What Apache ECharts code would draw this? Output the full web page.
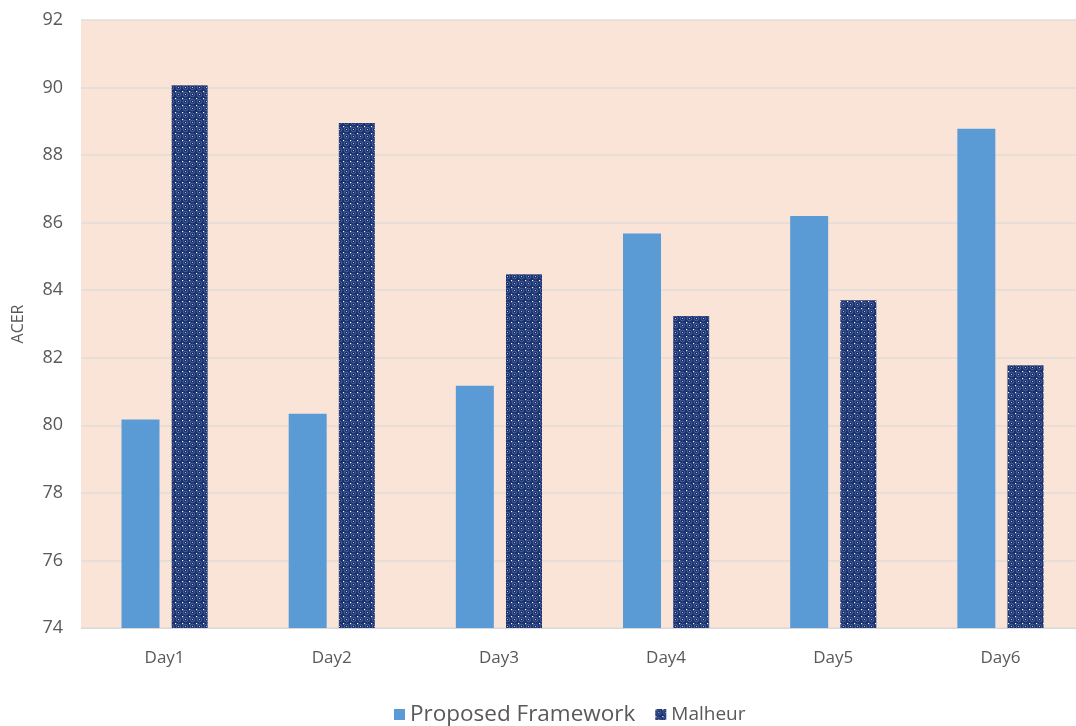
<!DOCTYPE html>
<html>
<head>
<meta charset="utf-8">
<script src="https://cdn.jsdelivr.net/npm/echarts@6/dist/echarts.min.js"></script>
<style>
  html, body { margin: 0; padding: 0; background: #fff; overflow: hidden; }
  /* a bit wider than the window: the plot is cut off at the right edge */
  #main { width: 1084px; height: 726px; }
</style>
</head>
<body>
<div id="main"></div>
<script>
// data
const days = ['Day1', 'Day2', 'Day3', 'Day4', 'Day5', 'Day6'];
const proposed = [80.17, 80.34, 81.17, 85.68, 86.2, 88.78];
const malheur = [90.07, 88.95, 84.47, 83.24, 83.7, 81.78];

// dotted navy fill for the Malheur bars
function makePattern() {
  const c = document.createElement('canvas');
  c.width = 7; c.height = 7;
  const g = c.getContext('2d');
  g.fillStyle = '#1a3370';
  g.fillRect(0, 0, 7, 7);
  g.strokeStyle = 'rgba(140,160,205,0.5)';
  g.lineWidth = 0.8;
  g.beginPath(); g.arc(3.5, 3.5, 2.3, 0, Math.PI * 2); g.stroke();
  g.fillStyle = '#ffffff';
  g.fillRect(0, 0, 1.2, 1.2);
  g.fillStyle = 'rgba(255,255,255,0.7)';
  g.fillRect(3, 3, 1, 1);
  return c;
}
const pattern = { image: makePattern(), repeat: 'repeat' };

const chart = echarts.init(document.getElementById('main'));
chart.setOption({
  animation: false,
  textStyle: { fontFamily: 'Open Sans, Noto Sans, sans-serif' },
  grid: {
    left: 81, right: 0, top: 20, bottom: 98,
    show: true, backgroundColor: '#f9e4d7', borderWidth: 0
  },
  legend: {
    left: 389, top: 698,
    itemGap: 20,
    data: [
      { name: 'Proposed Framework', icon: 'rect', itemStyle: { color: '#5b9bd5' } },
      { name: 'Malheur', icon: 'rect' }
    ],
    itemWidth: 11, itemHeight: 11,
    formatter: function (n) {
      return n === 'Proposed Framework' ? '{a|' + n + '}' : '{b|' + n + '}';
    },
    textStyle: {
      rich: {
        a: { fontSize: 22.5, color: '#595959', fontFamily: 'Open Sans, sans-serif' },
        b: { fontSize: 19, color: '#595959', fontFamily: 'Open Sans, sans-serif' }
      }
    }
  },
  xAxis: {
    type: 'category',
    data: days,
    axisLine: { show: true, lineStyle: { color: '#d9d9d9' } },
    axisTick: { show: false },
    axisLabel: { color: '#595959', fontSize: 17, margin: 22 }
  },
  yAxis: {
    type: 'value',
    min: 74, max: 92, interval: 2,
    name: 'ACER',
    nameLocation: 'middle',
    nameGap: 55,
    nameRotate: 90,
    nameTextStyle: { color: '#595959', fontSize: 16 },
    axisLine: { show: false },
    axisTick: { show: false },
    axisLabel: { color: '#595959', fontSize: 18, margin: 18 },
    splitLine: { lineStyle: { color: '#e2dcd8', width: 1.5 } }
  },
  series: [
    {
      name: 'Proposed Framework',
      type: 'bar',
      data: proposed,
      barWidth: 38,
      barGap: '32%',
      itemStyle: { color: '#5b9bd5' }
    },
    {
      name: 'Malheur',
      type: 'bar',
      data: malheur,
      barWidth: 36,
      itemStyle: { color: pattern }
    }
  ]
});
</script>
</body>
</html>
